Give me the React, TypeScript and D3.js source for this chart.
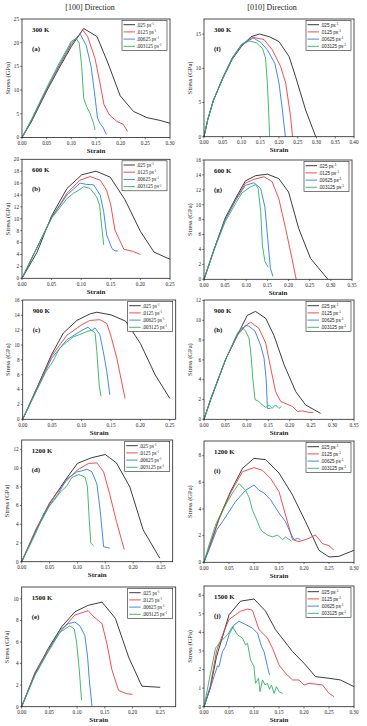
import * as d3 from "d3"

type Pt = [number, number]

// strain rates and temperatures
const rates = [".025", ".0125", ".00625", ".003125"]
const temps = ["300 K", "600 K", "900 K", "1200 K", "1500 K"]
const colors = ["#262626", "#ee3b3b", "#2f7de0", "#2fb062"]

// [100] 300 K
const a300: Pt[][] = [
  [[0,0],[0.02,3.5],[0.05,9.8],[0.075,14.6],[0.1,19.2],[0.125,23.0],[0.152,21.3],[0.175,15.5],[0.199,8.8],[0.226,5.5],[0.253,4.2],[0.28,3.6],[0.3,3.0]],
  [[0,0],[0.02,3.7],[0.05,10.0],[0.075,14.9],[0.1,19.6],[0.123,22.7],[0.133,21.3],[0.148,16.7],[0.158,11.5],[0.166,7.0],[0.177,4.8],[0.192,3.4],[0.205,2.8],[0.214,1.3]],
  [[0,0],[0.02,3.8],[0.05,10.2],[0.075,15.2],[0.1,19.9],[0.118,21.8],[0.13,19.5],[0.14,15],[0.148,8.6],[0.153,4.1],[0.158,3.0],[0.165,2.0],[0.171,0.6]],
  [[0,0],[0.02,4.0],[0.05,10.5],[0.075,15.6],[0.1,20.3],[0.11,20.9],[0.116,19.9],[0.121,15],[0.125,8.3],[0.131,6.5],[0.138,5.1],[0.145,3.0],[0.148,1.6]],
]
// [010] 300 K
const f300: Pt[][] = [
  [[0,0],[0.01,2.5],[0.025,5.3],[0.05,8.5],[0.075,11.3],[0.1,13.2],[0.125,14.6],[0.148,15.0],[0.175,14.6],[0.2,13.9],[0.227,11.7],[0.244,8.8],[0.271,3.9],[0.298,0]],
  [[0,0],[0.01,2.5],[0.025,5.3],[0.05,8.6],[0.075,11.5],[0.1,13.4],[0.133,14.5],[0.16,14.2],[0.182,12.7],[0.204,10.3],[0.218,7.8],[0.231,2.9],[0.236,0]],
  [[0,0],[0.01,2.5],[0.025,5.3],[0.05,8.6],[0.075,11.5],[0.1,13.5],[0.129,14.5],[0.151,13.8],[0.169,12.7],[0.189,10.7],[0.2,7.8],[0.209,3.9],[0.217,0]],
  [[0,0],[0.01,2.5],[0.025,5.3],[0.05,8.5],[0.075,11.3],[0.1,13.4],[0.12,14.0],[0.14,13.7],[0.156,12.9],[0.164,11.5],[0.169,7.8],[0.173,2.9],[0.175,0]],
]
// [100] 600 K
const b600: Pt[][] = [
  [[0,0],[0.025,4.3],[0.05,10.5],[0.076,15.1],[0.101,17.4],[0.125,18.0],[0.149,17.0],[0.174,13.2],[0.2,7.9],[0.223,4.4],[0.25,3.2]],
  [[0,0],[0.025,5.1],[0.05,10.2],[0.076,14.3],[0.098,16.5],[0.115,17.1],[0.132,16.5],[0.143,14.8],[0.15,12.3],[0.157,8.1],[0.172,4.9],[0.188,4.5],[0.2,4.0]],
  [[0,0],[0.025,5.1],[0.05,10.2],[0.076,14.0],[0.098,16.0],[0.108,15.8],[0.121,15.7],[0.132,14.0],[0.138,11.2],[0.143,7.3],[0.152,5.0],[0.157,4.6],[0.162,4.6]],
  [[0,0],[0.025,5.1],[0.05,10.1],[0.076,13.4],[0.087,14.3],[0.096,14.8],[0.104,15.4],[0.115,15.1],[0.126,13.7],[0.131,12.3],[0.135,8.4],[0.138,5.6]],
]
// [010] 600 K
const g600: Pt[][] = [
  [[0,0],[0.025,4.2],[0.05,8.2],[0.075,10.9],[0.098,13.2],[0.122,13.9],[0.15,14.1],[0.177,13.5],[0.2,11.7],[0.224,6.8],[0.252,2.8],[0.293,0]],
  [[0,0],[0.025,4.2],[0.05,8.0],[0.075,10.7],[0.098,12.9],[0.118,13.4],[0.142,13.75],[0.161,13.1],[0.177,10.8],[0.193,6.8],[0.208,2.8],[0.218,0]],
  [[0,0],[0.025,4.2],[0.05,8.0],[0.075,10.6],[0.098,12.6],[0.118,12.95],[0.134,12.2],[0.144,9.7],[0.152,4.6],[0.157,1.5],[0.163,0.4]],
  [[0,0],[0.025,4.1],[0.05,7.7],[0.075,10.2],[0.09,11.6],[0.11,12.4],[0.122,12.7],[0.128,12.2],[0.134,9.1],[0.138,4.6],[0.144,2.4],[0.152,1.6]],
]
// [100] 900 K
const c900: Pt[][] = [
  [[0,0],[0.024,4.2],[0.049,8.7],[0.069,11.6],[0.092,13.3],[0.115,14.2],[0.126,14.4],[0.15,14.05],[0.175,13.2],[0.2,10.2],[0.225,6.0],[0.25,2.8]],
  [[0,0],[0.024,4.2],[0.049,8.5],[0.075,11.3],[0.1,12.7],[0.114,13.3],[0.131,13.4],[0.143,12.9],[0.151,10.9],[0.16,8.2],[0.168,5.1],[0.174,2.8]],
  [[0,0],[0.024,4.0],[0.049,8.2],[0.075,10.7],[0.097,11.8],[0.111,12.4],[0.117,11.9],[0.123,12.3],[0.131,11.4],[0.137,9.1],[0.143,6.4],[0.148,3.3]],
  [[0,0],[0.024,3.9],[0.04,6.5],[0.05,7.6],[0.063,9.6],[0.075,10.4],[0.086,11.1],[0.097,11.4],[0.109,11.8],[0.117,12.0],[0.123,11.6],[0.126,9.1],[0.13,4.6],[0.133,3.1]],
]
// [010] 900 K
const h900: Pt[][] = [
  [[0,0],[0.016,2.0],[0.05,6.0],[0.078,8.5],[0.101,10.5],[0.12,10.9],[0.144,10.2],[0.163,8.5],[0.187,5.5],[0.214,2.8],[0.237,1.45],[0.272,0.6]],
  [[0,0],[0.016,2.1],[0.05,6.0],[0.078,8.5],[0.101,9.6],[0.109,9.8],[0.128,9.2],[0.144,7.7],[0.155,5.3],[0.167,2.8],[0.179,1.8],[0.206,1.3],[0.218,0.8],[0.229,0.85],[0.245,0.7],[0.255,0.7]],
  [[0,0],[0.016,2.1],[0.05,6.0],[0.078,8.6],[0.097,9.5],[0.105,9.4],[0.119,8.9],[0.132,7.5],[0.14,6.2],[0.145,4.1],[0.148,1.1],[0.155,1.1]],
  [[0,0],[0.016,2.1],[0.05,6.0],[0.078,8.7],[0.089,9.3],[0.097,8.9],[0.105,8.2],[0.109,6.8],[0.114,4.1],[0.119,2.0],[0.128,1.8],[0.136,1.45],[0.144,1.2],[0.152,1.45],[0.159,1.1],[0.167,1.45],[0.175,1.1],[0.181,1.3]],
]
// [100] 1200 K
const d1200: Pt[][] = [
  [[0,0],[0.025,3.3],[0.05,6.2],[0.078,8.7],[0.1,10.5],[0.125,11.1],[0.15,11.45],[0.17,10.55],[0.194,8.0],[0.218,3.4],[0.248,0.36]],
  [[0,0],[0.025,3.4],[0.05,6.3],[0.078,8.5],[0.1,9.8],[0.12,10.5],[0.135,10.55],[0.147,9.6],[0.158,7.2],[0.17,4.3],[0.184,1.3]],
  [[0,0],[0.025,3.2],[0.05,6.0],[0.065,7.2],[0.081,8.85],[0.099,9.6],[0.108,9.7],[0.117,9.9],[0.126,9.6],[0.135,8.3],[0.141,5.4],[0.147,1.6],[0.158,1.45]],
  [[0,0],[0.025,3.0],[0.04,5.2],[0.06,6.7],[0.069,7.4],[0.081,8.1],[0.09,9.0],[0.102,9.3],[0.108,9.2],[0.114,9.0],[0.118,8.0],[0.121,4.7],[0.124,2.0],[0.129,1.7]],
]
// [010] 1200 K
const i1200: Pt[][] = [
  [[0,0],[0.015,1.6],[0.03,3.3],[0.053,5.3],[0.077,7.05],[0.1,7.8],[0.123,7.7],[0.15,6.7],[0.177,5.05],[0.203,3.05],[0.23,0.9],[0.25,0.4],[0.27,0.45],[0.3,0.9]],
  [[0,0],[0.015,1.6],[0.03,3.2],[0.053,5.2],[0.077,6.8],[0.1,7.1],[0.117,6.9],[0.133,6.3],[0.15,5.3],[0.163,3.55],[0.177,1.7],[0.19,1.55],[0.21,1.8],[0.223,2.05],[0.237,1.4],[0.25,1.25],[0.26,0.9]],
  [[0,0],[0.015,1.4],[0.025,2.4],[0.037,3.05],[0.063,4.55],[0.083,5.4],[0.1,5.8],[0.11,5.4],[0.12,5.2],[0.133,4.7],[0.15,3.7],[0.163,3.05],[0.173,2.2],[0.18,1.7],[0.187,1.8],[0.193,1.7]],
  [[0,0],[0.01,1.3],[0.023,2.8],[0.037,3.9],[0.057,5.2],[0.07,5.9],[0.083,5.4],[0.09,4.9],[0.097,3.9],[0.107,3.05],[0.112,2.55],[0.117,2.3],[0.127,2.05],[0.137,1.9],[0.147,2.05],[0.157,1.7],[0.163,1.9],[0.175,1.6]],
]
// [100] 1500 K
const e1500: Pt[][] = [
  [[0,0],[0.024,3.1],[0.048,5.4],[0.072,7.4],[0.096,8.8],[0.12,9.4],[0.145,9.7],[0.169,8.2],[0.193,4.6],[0.217,1.9],[0.25,1.8]],
  [[0,0],[0.024,3.2],[0.048,5.3],[0.072,7.1],[0.096,8.5],[0.12,8.9],[0.131,8.3],[0.145,7.7],[0.154,5.8],[0.163,3.4],[0.175,1.5],[0.19,1.2],[0.2,1.15]],
  [[0,0],[0.024,3.0],[0.048,5.2],[0.069,7.1],[0.084,7.7],[0.096,7.85],[0.105,7.5],[0.114,6.6],[0.119,4.6],[0.122,2.5],[0.127,0]],
  [[0,0],[0.024,2.9],[0.048,5.1],[0.069,6.9],[0.078,7.2],[0.087,7.5],[0.095,7.2],[0.099,6.0],[0.104,3.4],[0.108,0.6]],
]
// [010] 1500 K
const j1500: Pt[][] = [
  [[0,0],[0.0125,1.0],[0.025,2.7],[0.0375,3.8],[0.05,4.95],[0.073,5.68],[0.1,5.8],[0.123,5.15],[0.143,4.15],[0.177,2.97],[0.2,2.34],[0.223,1.62],[0.25,1.53],[0.273,1.44],[0.3,1.08]],
  [[0,0],[0.0125,1.1],[0.025,3.0],[0.0375,3.9],[0.05,4.7],[0.073,5.14],[0.087,5.26],[0.097,5.19],[0.11,4.15],[0.127,3.7],[0.137,3.15],[0.15,2.25],[0.163,1.8],[0.177,1.44],[0.19,1.44],[0.2,1.17],[0.21,1.26],[0.237,1.17],[0.25,0.72],[0.26,0.54]],
  [[0,0],[0.01,0.8],[0.02,1.62],[0.027,2.2],[0.03,2.16],[0.037,2.97],[0.043,3.24],[0.05,3.87],[0.06,4.4],[0.07,4.6],[0.08,4.47],[0.097,4.23],[0.107,3.96],[0.115,3.24],[0.12,2.97],[0.127,2.16],[0.131,1.71]],
  [[0,0],[0.013,1.8],[0.023,3.15],[0.033,3.5],[0.047,3.87],[0.057,4.32],[0.067,3.87],[0.077,3.69],[0.083,3.33],[0.087,3.42],[0.09,2.97],[0.093,2.52],[0.1,2.16],[0.103,1.26],[0.109,1.53],[0.112,0.81],[0.117,1.44],[0.122,1.17],[0.127,1.26],[0.131,0.94],[0.135,1.17],[0.14,0.72],[0.145,1.08],[0.15,0.81],[0.157,0.72]],
]

// tick labels
const xTicks25 = [0, 0.05, 0.1, 0.15, 0.2, 0.25]
const xTicks30 = [0, 0.05, 0.1, 0.15, 0.2, 0.25, 0.3]
const xTicks35 = [0, 0.05, 0.1, 0.15, 0.2, 0.25, 0.3, 0.35]
const xTicks40 = [0, 0.05, 0.1, 0.15, 0.2, 0.25, 0.3, 0.35, 0.4]
const yTicksA = [0, 5, 10, 15, 20, 25]
const yTicksF = [0, 5, 10, 15]
const yTicks20 = [0, 2, 4, 6, 8, 10, 12, 14, 16, 18, 20]
const yTicks16 = [0, 2, 4, 6, 8, 10, 12, 14, 16]
const yTicks12 = [0, 2, 4, 6, 8, 10, 12]
const yTicks8 = [0, 2, 4, 6, 8]
const yTicks10 = [0, 2, 4, 6, 8, 10]
const yTicks6 = [0, 1, 2, 3, 4, 5, 6]

const panels = [
  { tag: "(a)", t: 0, data: a300, l: 22, r: 170, top: 19, bot: 137.5, xMax: 0.3, yMax: 25, xt: xTicks30, yt: yTicksA, serif: true },
  { tag: "(f)", t: 0, data: f300, l: 204, r: 354, top: 19, bot: 136.7, xMax: 0.4, yMax: 17.2, xt: xTicks40, yt: yTicksF, serif: false },
  { tag: "(b)", t: 1, data: b600, l: 22, r: 170, top: 159.3, bot: 278.3, xMax: 0.25, yMax: 20, xt: xTicks25, yt: yTicks20, serif: true },
  { tag: "(g)", t: 1, data: g600, l: 204, r: 352, top: 160, bot: 279.3, xMax: 0.35, yMax: 16, xt: xTicks35, yt: yTicks16, serif: false },
  { tag: "(c)", t: 2, data: c900, l: 22.7, r: 175.7, top: 300, bot: 419.3, xMax: 0.26, yMax: 16.05, xt: xTicks25, yt: yTicks16, serif: true },
  { tag: "(h)", t: 2, data: h900, l: 204, r: 354, top: 300, bot: 419.3, xMax: 0.35, yMax: 12.05, xt: xTicks35, yt: yTicks12, serif: false },
  { tag: "(d)", t: 3, data: d1200, l: 21.7, r: 172.7, top: 440, bot: 561.7, xMax: 0.271, yMax: 13, xt: xTicks25, yt: yTicks12, serif: true },
  { tag: "(i)", t: 3, data: i1200, l: 204, r: 354, top: 441, bot: 562.3, xMax: 0.3, yMax: 9.1, xt: xTicks30, yt: yTicks8, serif: false },
  { tag: "(e)", t: 4, data: e1500, l: 21.7, r: 175.7, top: 587, bot: 706.7, xMax: 0.278, yMax: 11.1, xt: xTicks25, yt: yTicks10, serif: true },
  { tag: "(j)", t: 4, data: j1500, l: 204, r: 354, top: 586, bot: 706.7, xMax: 0.3, yMax: 6.5, xt: xTicks30, yt: yTicks6, serif: false },
]

const serif = "'Liberation Serif', 'Times New Roman', serif"
const sans = "'Liberation Sans', Arial, sans-serif"

function Panel({ p }: { p: (typeof panels)[number] }) {
  const x = d3.scaleLinear().domain([0, p.xMax]).range([p.l, p.r])
  const y = d3.scaleLinear().domain([0, p.yMax]).range([p.bot, p.top])
  const line = d3
    .line<Pt>()
    .x((d) => x(d[0]))
    .y((d) => y(d[1]))
  const fmt = d3.format(".2f")
  const lgW = 45
  const lgX = p.r - lgW - 3
  const lgY = p.top + 1.5
  const midY = (p.top + p.bot) / 2
  const lgFont = p.serif ? serif : sans
  const lgSize = p.serif ? 5.1 : 4.6
  return (
    <g>
      {p.data.map((s, i) => (
        <path key={i} d={line(s) ?? ""} fill="none" stroke={colors[i]} strokeWidth={0.9} strokeLinejoin="round" />
      ))}
      <rect x={p.l} y={p.top} width={p.r - p.l} height={p.bot - p.top} fill="none" stroke="#222" strokeWidth={0.8} />
      {p.xt.map((v) => (
        <g key={"x" + v}>
          <line x1={x(v)} x2={x(v)} y1={p.bot} y2={p.bot + 1.8} stroke="#222" strokeWidth={0.6} />
          <text x={x(v)} y={p.bot + 7.2} fontSize={5.2} textAnchor="middle" fontFamily={serif} fill="#222">
            {fmt(v)}
          </text>
        </g>
      ))}
      {p.yt.map((v) => (
        <g key={"y" + v}>
          <line x1={p.l - 1.8} x2={p.l} y1={y(v)} y2={y(v)} stroke="#222" strokeWidth={0.6} />
          <text x={p.l - 3} y={y(v) + 1.8} fontSize={5.2} textAnchor="end" fontFamily={serif} fill="#222">
            {v}
          </text>
        </g>
      ))}
      <text x={(p.l + p.r) / 2} y={p.bot + 15.5} fontSize={7} fontWeight="bold" textAnchor="middle" fontFamily={serif} fill="#222">
        Strain
      </text>
      <text
        transform={`translate(${p.l - 12.5},${midY}) rotate(-90)`}
        fontSize={6.5}
        textAnchor="middle"
        fontFamily={serif}
        fill="#222"
      >
        Stress (GPa)
      </text>
      <text x={p.l + 10} y={p.top + 12.5} fontSize={6.8} fontWeight="bold" fontFamily={serif} fill="#111">
        {temps[p.t]}
      </text>
      <text x={p.l + 10} y={p.top + 31.5} fontSize={6.8} fontWeight="bold" fontFamily={serif} fill="#111">
        {p.tag}
      </text>
      <rect x={lgX} y={lgY} width={lgW} height={30} fill="#fff" stroke="#222" strokeWidth={0.6} />
      {rates.map((r, i) => (
        <g key={r}>
          <line x1={lgX + 1.5} x2={lgX + 13} y1={lgY + 4.2 + i * 7.2} y2={lgY + 4.2 + i * 7.2} stroke={colors[i]} strokeWidth={0.9} />
          <text x={lgX + 14.5} y={lgY + 6 + i * 7.2} fontSize={lgSize} fontFamily={lgFont} fill="#222">
            {r} ps
            <tspan fontSize={3.2} dy={-1.8}>
              -1
            </tspan>
          </text>
        </g>
      ))}
    </g>
  )
}

export default function App() {
  return (
    <div style={{ position: "absolute", left: 0, top: 0 }}>
      <svg width={367} height={726} viewBox="0 0 367 726" style={{ display: "block", background: "#fff" }}>
        <text x={90} y={9.5} fontSize={8} textAnchor="middle" fontFamily={serif} fill="#222">
          [100] Direction
        </text>
        <text x={272} y={9.5} fontSize={8} textAnchor="middle" fontFamily={serif} fill="#222">
          [010] Direction
        </text>
        {panels.map((p) => (
          <Panel key={p.tag} p={p} />
        ))}
      </svg>
    </div>
  )
}
